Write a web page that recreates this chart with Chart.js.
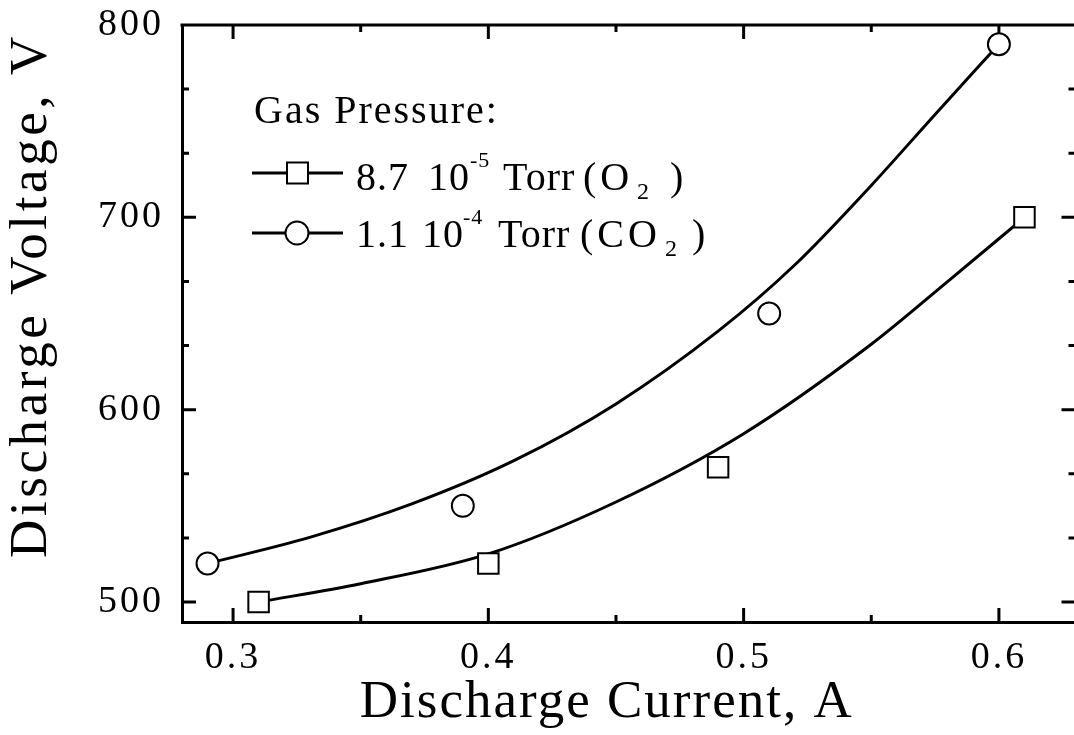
<!DOCTYPE html>
<html><head><meta charset="utf-8">
<script src="https://cdn.jsdelivr.net/npm/chart.js@4.4.1/dist/chart.umd.min.js"></script>
<style>html,body{margin:0;padding:0;background:#fff;overflow:hidden;width:1074px;height:735px}
#wrap{position:relative;width:1092px;height:735px}</style></head>
<body><div id="wrap"><canvas id="c" width="1092" height="735"></canvas></div>
<script>
// ---- data ----
const o2Current = [0.31, 0.40, 0.49, 0.61];
const o2Voltage = [500, 520, 570, 700];
const co2Current = [0.29, 0.39, 0.51, 0.60];
const co2Voltage = [520, 550, 650, 790];
const o2FitCurrent = [0.31, 0.35, 0.40, 0.45, 0.50, 0.55, 0.58, 0.61];
const o2FitVoltage = [500, 509.5, 525, 552, 587.5, 634, 666.7, 700];
const co2FitCurrent = [0.29, 0.33, 0.37, 0.41, 0.45, 0.49, 0.52, 0.55, 0.575, 0.60];
const co2FitVoltage = [520, 533.6, 551, 573.5, 603, 640.8, 675.2, 716.6, 753.5, 790];
const xTickValues = [0.3, 0.4, 0.5, 0.6];
const xMinorValues = [0.35, 0.45, 0.55];
const yTickValues = [500, 600, 700, 800];
const yMinorValues = [533.33, 566.67, 633.33, 666.67, 733.33, 766.67];
const xTitle = 'Discharge Current, A';
const yTitle = 'Discharge Voltage, V';
const legendTitle = 'Gas Pressure:';
const o2Label = ['8.7', '10', '-5', 'Torr', '(O', '2', ')'];
const co2Label = ['1.1', '10', '-4', 'Torr', '(CO', '2', ')'];

const FAM = "'Liberation Serif', 'Times New Roman', serif";
const pts = (xs, ys) => xs.map((x, i) => ({x, y: ys[i]}));

const frame = {
  id: 'frame',
  beforeDraw(chart) {
    const cfg = {x: {ls: '3px', tls: '2px', dx: -22, dy: 0}, y: {ls: '3px', tls: '3.6px', dx: 0, dy: -28}};
    ['x', 'y'].forEach(id => {
      const s = chart.scales[id];
      if (s && !s._patched) {
        const c0 = cfg[id];
        const dl = s.drawLabels.bind(s), dt = s.drawTitle.bind(s);
        s.drawLabels = function (a) { const c = this.ctx; c.save(); c.letterSpacing = c0.ls; dl(a); c.restore(); };
        s.drawTitle = function () { const c = this.ctx; c.save(); c.translate(c0.dx, c0.dy); c.letterSpacing = c0.tls; dt(); c.restore(); };
        s._patched = true;
      }
    });
  },
  beforeDatasetsDraw(chart) {
    const {ctx, chartArea: a, scales: {x, y}} = chart;
    ctx.save();
    ctx.strokeStyle = '#000'; ctx.lineWidth = 3; ctx.lineCap = 'butt';
    ctx.beginPath();
    ctx.moveTo(a.left - 1.5, a.top); ctx.lineTo(a.right + 1.5, a.top);
    ctx.moveTo(a.right, a.top); ctx.lineTo(a.right, a.bottom);
    const MJ = 14, MN = 7;
    const vt = (v, len) => { const p = x.getPixelForValue(v);
      ctx.moveTo(p, a.bottom); ctx.lineTo(p, a.bottom - len);
      ctx.moveTo(p, a.top); ctx.lineTo(p, a.top + len); };
    const ht = (v, len) => { const p = y.getPixelForValue(v);
      ctx.moveTo(a.left, p); ctx.lineTo(a.left + len, p);
      ctx.moveTo(a.right, p); ctx.lineTo(a.right - len, p); };
    xTickValues.forEach(v => vt(v, MJ));
    xMinorValues.forEach(v => vt(v, MN));
    yTickValues.forEach(v => ht(v, MJ));
    yMinorValues.forEach(v => ht(v, MN));
    ctx.stroke();
    ctx.restore();
  },
  afterDraw(chart) {
    const ctx = chart.ctx;
    ctx.save();
    ctx.fillStyle = '#000'; ctx.textBaseline = 'alphabetic'; ctx.textAlign = 'left';
    ctx.font = '40px ' + FAM; ctx.letterSpacing = '2px';
    ctx.fillText(legendTitle, 254, 123);
    const rows = [
      {parts: o2Label, xs: [356, 428, 470, 503, 583, 637, 670], base: 190, ly: 173, style: 'rect'},
      {parts: co2Label, xs: [356, 422, 463, 498, 580, 665, 692], base: 247, ly: 233, style: 'circle'}
    ];
    rows.forEach(r => {
      r.parts.forEach((t, i) => {
        if (i === 2) { ctx.font = '22px ' + FAM; ctx.letterSpacing = '1px'; ctx.fillText(t, r.xs[i], r.base - 23); }
        else if (i === 5) { ctx.font = '24px ' + FAM; ctx.letterSpacing = '0px'; ctx.fillText(t, r.xs[i], r.base + 9); }
        else if (i === 4) { ctx.font = '40px ' + FAM; ctx.letterSpacing = '4px'; ctx.fillText(t, r.xs[i], r.base); }
        else { ctx.font = '40px ' + FAM; ctx.letterSpacing = '1px'; ctx.fillText(t, r.xs[i], r.base); }
      });
      ctx.strokeStyle = '#000'; ctx.lineWidth = 3;
      ctx.beginPath(); ctx.moveTo(252, r.ly); ctx.lineTo(343, r.ly); ctx.stroke();
      ctx.lineWidth = 2; ctx.fillStyle = '#fff';
      ctx.beginPath();
      if (r.style === 'rect') ctx.rect(287, r.ly - 10.5, 21, 21);
      else ctx.arc(297, r.ly, 11.5, 0, Math.PI * 2);
      ctx.fill(); ctx.stroke();
      ctx.fillStyle = '#000';
    });
    ctx.restore();
  }
};

new Chart(document.getElementById('c'), {
  type: 'scatter',
  data: {datasets: [
    {label: o2Label.join(' '), data: pts(o2Current, o2Voltage), pointStyle: 'rect', pointRadius: 14.5,
     pointBorderWidth: 2, pointBorderColor: '#000', pointBackgroundColor: '#fff', showLine: false, order: 0},
    {label: co2Label.join(' '), data: pts(co2Current, co2Voltage), pointStyle: 'circle', pointRadius: 11,
     pointBorderWidth: 2, pointBorderColor: '#000', pointBackgroundColor: '#fff', showLine: false, order: 0},
    {label: 'O2 fit', data: pts(o2FitCurrent, o2FitVoltage), showLine: true, pointRadius: 0, borderColor: '#000',
     borderWidth: 3, cubicInterpolationMode: 'monotone', order: 1},
    {label: 'CO2 fit', data: pts(co2FitCurrent, co2FitVoltage), showLine: true, pointRadius: 0, borderColor: '#000',
     borderWidth: 3, cubicInterpolationMode: 'monotone', order: 1}
  ]},
  options: {
    responsive: false, animation: false, devicePixelRatio: 1,
    layout: {padding: {left: 0, top: 25, right: 12, bottom: 0}},
    plugins: {legend: {display: false}, tooltip: {enabled: false}},
    scales: {
      x: {type: 'linear', min: 0.28, max: 0.63,
        afterBuildTicks: s => { s.ticks = xTickValues.map(v => ({value: v})); },
        afterFit: s => { s.height = 113; s.paddingLeft = 0; s.paddingRight = 0; },
        grid: {display: false}, border: {display: true, width: 3, color: '#000'},
        ticks: {padding: 5, color: '#000', font: {family: FAM, size: 38}, maxRotation: 0, autoSkip: false,
          callback: v => Number(v).toFixed(1)},
        title: {display: true, text: xTitle, color: '#000', font: {family: FAM, size: 53}, padding: {top: 0, bottom: 0}}},
      y: {type: 'linear', min: 489.6, max: 800,
        afterBuildTicks: s => { s.ticks = yTickValues.map(v => ({value: v})); },
        afterFit: s => { s.width = 182; s.paddingTop = 0; s.paddingBottom = 0; },
        grid: {display: false}, border: {display: true, width: 3, color: '#000'},
        ticks: {padding: 10, color: '#000', font: {family: FAM, size: 38}, autoSkip: false,
          callback: v => String(v)},
        title: {display: true, text: yTitle, color: '#000', font: {family: FAM, size: 53}, padding: {top: 0, bottom: 0}}}
    }
  },
  plugins: [frame]
});
</script>
</body></html>
